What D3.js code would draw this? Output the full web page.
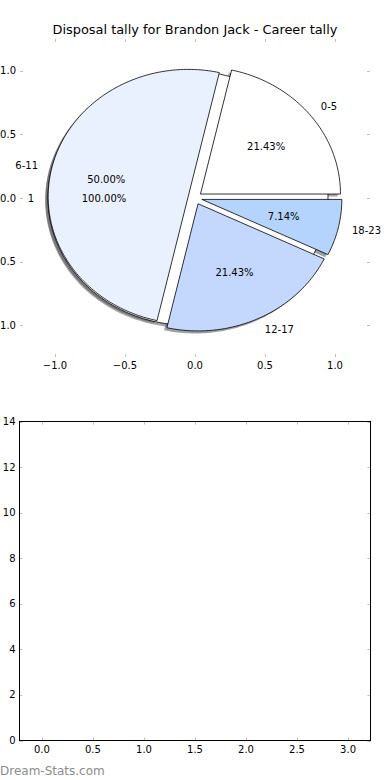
<!DOCTYPE html>
<html lang="en">
  <head>
    <meta charset="UTF-8" />
    <title>Disposal tally for Brandon Jack</title>
    <script src="https://d3js.org/d3.v7.min.js"></script>
    <style>
      body {
        margin: 0;
        background: #fff;
      }
      svg {
        display: block;
        font-family: "DejaVu Sans", sans-serif;
      }
      .tick-mark {
        stroke: #c0c0c0;
        stroke-width: 1;
      }
      .tick-label {
        font-size: 10px;
        fill: #000;
      }
    </style>
  </head>
  <body>
    <svg width="390" height="780"></svg>

    <script>
      // career tally, in disposal bands
      const bandLabels = ["0-5", "6-11", "12-17", "18-23"];
      const bandGames = [3, 7, 3, 1];
      // a one-slice pie sits under the bands
      const totalLabels = ["1"];
      const totalValues = [1];

      const pieTicks = [-1, -0.5, 0, 0.5, 1];
      const lowerXTicks = [0, 0.5, 1, 1.5, 2, 2.5, 3];
      const lowerYTicks = [0, 2, 4, 6, 8, 10, 12, 14];

      const bandColors = ["#ffffff", "#eaf1fe", "#c4d8fe", "#b4d4fe"];
      const totalColor = "#ffffff";
      const explode = 0.05;

      const svg = d3.select("svg");

      // ---------- title ----------
      svg.append("text")
        .attr("x", 195)
        .attr("y", 34)
        .attr("text-anchor", "middle")
        .attr("font-size", 12.9)
        .text("Disposal tally for Brandon Jack - Career tally");

      // ---------- pie axes ----------
      const pieBox = {left: 20, right: 370, top: 39, bottom: 357};
      const x = d3.scaleLinear().domain([-1.25, 1.25]).range([pieBox.left, pieBox.right]);
      const y = d3.scaleLinear().domain([-1.25, 1.25]).range([pieBox.bottom, pieBox.top]);

      const fmt = d3.format(".1f");

      function ticksBox(g, box, xs, ys, xScale, yScale, xFmt, yFmt) {
        const len = 3;
        xs.forEach((v) => {
          const px = Math.round(xScale(v)) + 0.5;
          g.append("line").attr("class", "tick-mark")
            .attr("x1", px).attr("x2", px).attr("y1", box.bottom).attr("y2", box.bottom - len);
          g.append("line").attr("class", "tick-mark")
            .attr("x1", px).attr("x2", px).attr("y1", box.top).attr("y2", box.top + len);
          g.append("text").attr("class", "tick-label")
            .attr("x", xScale(v)).attr("y", box.bottom + 12)
            .attr("text-anchor", "middle")
            .text(xFmt(v));
        });
        ys.forEach((v) => {
          const py = Math.round(yScale(v)) + 0.5;
          g.append("line").attr("class", "tick-mark")
            .attr("x1", box.left).attr("x2", box.left + len).attr("y1", py).attr("y2", py);
          g.append("line").attr("class", "tick-mark")
            .attr("x1", box.right).attr("x2", box.right - len).attr("y1", py).attr("y2", py);
          g.append("text").attr("class", "tick-label")
            .attr("x", box.left - 4).attr("y", yScale(v))
            .attr("dy", "0.35em")
            .attr("text-anchor", "end")
            .text(yFmt(v));
        });
      }

      const pieG = svg.append("g");

      // matplotlib-style angles: 0 at 3 o'clock, counter-clockwise
      function slices(values) {
        return d3.pie().sort(null).startAngle(0).endAngle(2 * Math.PI)(values).map((d) => ({
          t1: d.startAngle,
          t2: d.endAngle,
          mid: (d.startAngle + d.endAngle) / 2,
          value: d.value,
          index: d.index,
        }));
      }

      const line = d3.line().x((p) => x(p[0])).y((p) => y(p[1]));

      function wedgePath(s, dx, dy) {
        const cx = explode * Math.cos(s.mid) + dx;
        const cy = explode * Math.sin(s.mid) + dy;
        const full = s.t2 - s.t1 >= 2 * Math.PI - 1e-9;
        const n = Math.max(8, Math.ceil((s.t2 - s.t1) / 0.02));
        const pts = d3.range(n + 1).map((i) => {
          const t = s.t1 + ((s.t2 - s.t1) * i) / n;
          return [cx + Math.cos(t), cy + Math.sin(t)];
        });
        if (!full) pts.unshift([cx, cy]);
        return line(pts) + "Z";
      }

      const totalSlices = slices(totalValues);
      const bandSlices = slices(bandGames);
      const all = [
        ...totalSlices.map((s) => ({...s, color: totalColor})),
        ...bandSlices.map((s) => ({...s, color: bandColors[s.index]})),
      ];

      // shadows go beneath every wedge
      pieG.selectAll("path.shadow")
        .data(all)
        .join("path")
        .attr("class", "shadow")
        .attr("d", (s) => wedgePath(s, -0.02, -0.02))
        .attr("fill", (s) => {
          const c = d3.rgb(s.color);
          return d3.rgb(c.r * 0.3, c.g * 0.3, c.b * 0.3);
        })
        .attr("fill-opacity", 0.5)
        .attr("stroke", "none");

      pieG.selectAll("path.wedge")
        .data(all)
        .join("path")
        .attr("class", "wedge")
        .attr("d", (s) => wedgePath(s, 0, 0))
        .attr("fill", (s) => s.color)
        .attr("stroke", "#000")
        .attr("stroke-width", 0.8)
        .attr("stroke-linejoin", "round");

      function pieTexts(sl, labels, values) {
        const total = d3.sum(values);
        sl.forEach((s) => {
          const lx = (1.1 + explode) * Math.cos(s.mid);
          const ly = (1.1 + explode) * Math.sin(s.mid);
          pieG.append("text")
            .attr("x", x(lx))
            .attr("y", y(ly))
            .attr("dy", "0.35em")
            .attr("text-anchor", lx > 0 ? "start" : "end")
            .attr("font-size", 10)
            .text(labels[s.index]);
          const px = (0.6 + explode) * Math.cos(s.mid);
          const py = (0.6 + explode) * Math.sin(s.mid);
          pieG.append("text")
            .attr("x", x(px))
            .attr("y", y(py))
            .attr("dy", "0.35em")
            .attr("text-anchor", "middle")
            .attr("font-size", 10)
            .text(d3.format(".2f")((100 * s.value) / total) + "%");
        });
      }
      pieTexts(totalSlices, totalLabels, totalValues);
      pieTexts(bandSlices, bandLabels, bandGames);

      ticksBox(svg.append("g"), pieBox, pieTicks, pieTicks, x, y, fmt, fmt);

      // ---------- lower, empty axes ----------
      const low = {left: 19.5, right: 370.5, top: 421.5, bottom: 740.5};
      const x2 = d3.scaleLinear().domain([-0.22, 3.22]).range([low.left, low.right]);
      const y2 = d3.scaleLinear().domain([0, 14]).range([low.bottom, low.top]);

      const lowG = svg.append("g");
      ticksBox(lowG, low, lowerXTicks, lowerYTicks, x2, y2, fmt, d3.format("d"));

      lowG.append("rect")
        .attr("x", low.left)
        .attr("y", low.top)
        .attr("width", low.right - low.left)
        .attr("height", low.bottom - low.top)
        .attr("fill", "none")
        .attr("stroke", "#000")
        .attr("stroke-width", 1);

      // ---------- watermark ----------
      svg.append("text")
        .attr("x", 0)
        .attr("y", 775)
        .attr("font-size", 12)
        .attr("fill", "#8c8c8c")
        .text("Dream-Stats.com");
    </script>
  </body>
</html>
